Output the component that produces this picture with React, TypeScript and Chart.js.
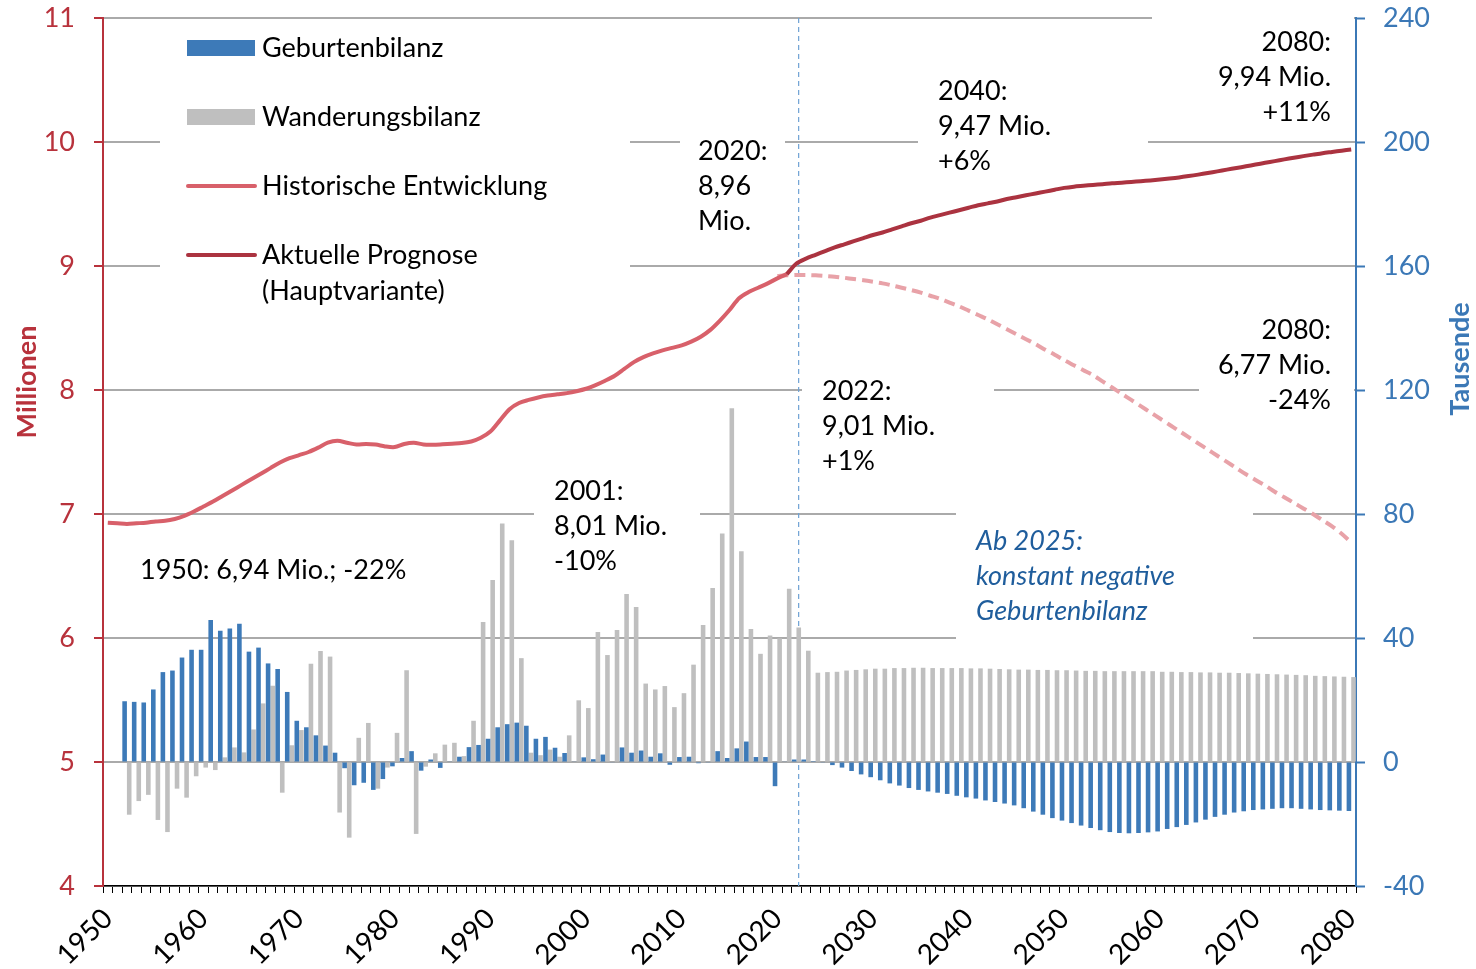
import React, { useEffect, useRef } from 'react';
import { Chart, registerables } from 'chart.js';

Chart.register(...registerables);

// ---------- categories ----------
const firstYear = 1950;
const lastYear = 2080;
const years: string[] = Array.from({ length: lastYear - firstYear + 1 }, (_, i) => String(firstYear + i));

// ---------- right axis (Tausende): bars ----------
const geburtenStart = 1952;
const geburtenbilanz = [
  19.6, 19.4, 19.2, 23.4, 29.0, 29.5, 33.7, 36.2, 36.2, // 1952-1960
  45.8, 42.3, 43.1, 44.6, 35.6, 36.9, 31.8, 30.0, 22.6, 13.3, // 1961-1970
  11.2, 8.6, 5.3, 3.0, -2.0, -7.5, -6.7, -9.0, -5.5, -1.4, // 1971-1980
  1.3, 3.5, -2.8, 0.8, -1.9, 0.2, 1.7, 4.8, 5.5, 7.5, // 1981-1990
  11.2, 12.2, 12.7, 11.7, 7.5, 8.1, 4.6, 2.9, 0.2, 1.5, // 1991-2000
  0.9, 2.4, -0.2, 4.7, 3.0, 3.7, 1.7, 2.8, -0.9, 1.6, // 2001-2010
  1.7, -0.4, -0.1, 3.5, 1.3, 4.4, 6.6, 1.6, 1.6, -7.8, // 2011-2020
  0.2, 0.8, 0.8, 0.3, -0.1, -1.0, -1.8, -2.9, -4.0, -4.9, // 2021-2030
  -5.9, -6.9, -7.6, -8.4, -9.0, -9.5, -9.9, -10.3, -10.9, -11.4, // 2031-2040
  -11.8, -12.4, -12.9, -13.4, -14.0, -14.9, -16.0, -17.0, -18.1, -18.9, // 2041-2050
  -19.7, -20.5, -21.3, -22.0, -22.6, -22.9, -23.0, -22.9, -22.7, -22.4, // 2051-2060
  -21.6, -21.0, -20.3, -19.5, -18.6, -17.7, -17.0, -16.3, -15.9, -15.5, // 2061-2070
  -15.3, -15.1, -14.9, -14.9, -15.1, -15.3, -15.5, -15.6, -15.7, -15.8, // 2071-2080
];

const wanderungStart = 1952;
const wanderungsbilanz = [
  -17.0, -12.6, -10.6, -18.7, -22.6, -8.6, -11.5, -4.6, -1.8, // 1952-1960
  -2.6, 1.5, 4.7, 3.1, 10.5, 18.9, 24.6, -9.9, 5.4, 10.3, // 1961-1970
  31.7, 35.8, 34.0, -16.3, -24.4, 7.8, 12.6, -8.6, -1.8, 9.4, // 1971-1980
  29.6, -23.2, -1.5, 2.8, 5.6, 6.2, 1.9, 13.3, 45.2, 58.7, // 1981-1990
  76.9, 71.5, 33.5, 3.0, 2.2, 4.0, 1.7, 8.6, 19.9, 17.4, // 1991-2000
  41.9, 34.5, 42.6, 54.2, 50.0, 25.3, 23.4, 24.5, 17.7, 22.2, // 2001-2010
  31.4, 44.2, 56.1, 73.7, 114.1, 68.0, 42.9, 34.9, 40.8, 39.9, // 2011-2020
  55.9, 43.4, 35.9, 28.8, 29.0, 29.1, 29.5, 29.7, 29.9, 30.1, // 2021-2030
  30.1, 30.3, 30.3, 30.4, 30.4, 30.3, 30.3, 30.3, 30.3, 30.2, // 2031-2040
  30.2, 30.1, 30.0, 29.9, 29.8, 29.8, 29.7, 29.7, 29.6, 29.6, // 2041-2050
  29.5, 29.4, 29.4, 29.3, 29.3, 29.3, 29.3, 29.3, 29.3, 29.1, // 2051-2060
  29.1, 29.0, 29.0, 28.9, 28.9, 28.8, 28.8, 28.7, 28.6, 28.5, // 2061-2070
  28.4, 28.3, 28.2, 28.1, 28.0, 27.8, 27.7, 27.6, 27.5, 27.4, // 2071-2080
];

// ---------- left axis (Millionen): lines ----------
const historischStart = 1950;
const historisch = [
  6.93, 6.925, 6.92, 6.925, 6.93, 6.94, 6.945, 6.96, 6.985, 7.02, // 1950-1959
  7.06, 7.1, 7.145, 7.19, 7.235, 7.28, 7.325, 7.37, 7.415, 7.45, // 1960-1969
  7.475, 7.5, 7.535, 7.575, 7.59, 7.575, 7.56, 7.565, 7.56, 7.545, // 1970-1979
  7.54, 7.565, 7.575, 7.56, 7.558, 7.562, 7.567, 7.572, 7.585, 7.615, // 1980-1989
  7.665, 7.755, 7.845, 7.895, 7.92, 7.94, 7.955, 7.965, 7.975, 7.99, // 1990-1999
  8.01, 8.04, 8.075, 8.115, 8.17, 8.225, 8.265, 8.295, 8.32, 8.34, // 2000-2009
  8.36, 8.39, 8.43, 8.485, 8.56, 8.645, 8.74, 8.79, 8.825, 8.86, // 2010-2019
  8.9, 8.935, // 2020-2021
];

const prognoseStart = 2021;
const prognose = [
  8.935, 9.02, 9.06, 9.09, 9.12, 9.15, 9.175, 9.2, 9.225, 9.25, // 2021-2030
  9.27, 9.295, 9.32, 9.345, 9.365, 9.39, 9.41, 9.43, 9.45, 9.47, // 2031-2040
  9.49, 9.505, 9.52, 9.54, 9.555, 9.57, 9.585, 9.6, 9.615, 9.63, // 2041-2050
  9.64, 9.647, 9.654, 9.66, 9.667, 9.672, 9.678, 9.684, 9.69, 9.697, // 2051-2060
  9.705, 9.714, 9.725, 9.737, 9.75, 9.763, 9.777, 9.79, 9.804, 9.818, // 2061-2070
  9.832, 9.846, 9.86, 9.873, 9.886, 9.898, 9.91, 9.92, 9.93, 9.94, // 2071-2080
];

const ohneWanderungStart = 2020;
const ohneWanderung = [
  8.92, // 2020
  8.925, 8.927, 8.927, 8.925, 8.92, 8.914, 8.905, 8.895, 8.885, 8.873, // 2021-2030
  8.86, 8.843, 8.825, 8.806, 8.785, 8.76, 8.735, 8.705, 8.675, 8.64, // 2031-2040
  8.605, 8.57, 8.53, 8.49, 8.45, 8.41, 8.37, 8.325, 8.285, 8.24, // 2041-2050
  8.2, 8.16, 8.12, 8.07, 8.02, 7.97, 7.92, 7.87, 7.82, 7.77, // 2051-2060
  7.72, 7.67, 7.62, 7.57, 7.52, 7.47, 7.42, 7.37, 7.32, 7.275, // 2061-2070
  7.23, 7.18, 7.135, 7.09, 7.045, 7.0, 6.95, 6.9, 6.84, 6.77, // 2071-2080
];

const markerYear = 2022.23; // dashed vertical marker

// ---------- text ----------
const annotations = [
  { lines: ['1950: 6,94 Mio.; -22%'], x: 140, y: 570, align: 'left' },
  { lines: ['2001:', '8,01 Mio.', '-10%'], x: 554, y: 491, align: 'left' },
  { lines: ['2020:', '8,96', 'Mio.'], x: 698, y: 151, align: 'left' },
  { lines: ['2040:', '9,47 Mio.', '+6%'], x: 938, y: 91, align: 'left' },
  { lines: ['2080:', '9,94 Mio.', '+11%'], x: 1331, y: 42, align: 'right' },
  { lines: ['2022:', '9,01 Mio.', '+1%'], x: 822, y: 391, align: 'left' },
  { lines: ['2080:', '6,77 Mio.', '-24%'], x: 1331, y: 330, align: 'right' },
  { lines: ['Ab 2025:', 'konstant negative', 'Geburtenbilanz'], x: 976, y: 541, align: 'left', italic: true, color: '#1f5d9c' },
];

// white text-box backgrounds (cover gridlines as in the original)
const whiteBoxes = [
  [160, 25, 630, 312],
  [680, 128, 785, 245],
  [918, 68, 1148, 180],
  [1152, 8, 1354, 130],
  [1199, 308, 1354, 420],
  [802, 370, 994, 480],
  [534, 468, 700, 582],
  [956, 505, 1253, 648],
];

const legendRows = [
  { ds: 0, y: 48, kind: 'bar', lines: ['Geburtenbilanz'] },
  { ds: 1, y: 117, kind: 'bar', lines: ['Wanderungsbilanz'] },
  { ds: 2, y: 186, kind: 'line', lines: ['Historische Entwicklung'] },
  { ds: 3, y: 255, kind: 'line', lines: ['Aktuelle Prognose', '(Hauptvariante)'] },
];

const FONT = 'Lato, "Open Sans", sans-serif';
const FS = 27;
const LINE_H = 35;
const RED_AXIS = '#b8323c';
const BLUE_AXIS = '#3b78b6';
const BAR_BLUE = '#3d7ab8';
const BAR_GRAY = '#bfbfbf';
const HIST_COLOR = '#d8606a';
const PROG_COLOR = '#ab3340';
const DASH_COLOR = '#e8a2a8';

function pad(start: number, arr: number[]) {
  const out: (number | null)[] = years.map(() => null);
  arr.forEach((v, i) => {
    out[start - firstYear + i] = v;
  });
  return out;
}

const decorPlugin = {
  id: 'decor',
  beforeDatasetsDraw(chart: any) {
    const ctx = chart.ctx;
    const ca = chart.chartArea;
    ctx.save();
    ctx.fillStyle = '#ffffff';
    for (const b of whiteBoxes) ctx.fillRect(b[0], b[1], b[2] - b[0], b[3] - b[1]);
    const vx = chart.scales.x.getPixelForValue(markerYear - firstYear);
    ctx.strokeStyle = '#6fa2d4';
    ctx.lineWidth = 1.2;
    ctx.setLineDash([5, 4]);
    ctx.beginPath();
    ctx.moveTo(vx, ca.top);
    ctx.lineTo(vx, ca.bottom);
    ctx.stroke();
    ctx.restore();
  },
  afterDraw(chart: any) {
    const ctx = chart.ctx;
    ctx.save();
    ctx.textBaseline = 'middle';
    for (const a of annotations) {
      ctx.font = `${a.italic ? 'italic ' : ''}${FS}px ${FONT}`;
      ctx.fillStyle = a.color || '#000';
      ctx.textAlign = a.align;
      a.lines.forEach((t, i) => ctx.fillText(t, a.x, a.y + i * LINE_H));
    }
    const ds = chart.data.datasets;
    for (const r of legendRows) {
      const d = ds[r.ds];
      if (r.kind === 'bar') {
        ctx.fillStyle = d.backgroundColor;
        ctx.fillRect(187, r.y - 8, 68, 16);
      } else {
        ctx.strokeStyle = d.borderColor;
        ctx.lineWidth = 4;
        ctx.lineCap = 'round';
        ctx.beginPath();
        ctx.moveTo(188, r.y);
        ctx.lineTo(255, r.y);
        ctx.stroke();
      }
      ctx.font = `${FS}px ${FONT}`;
      ctx.fillStyle = '#000';
      ctx.textAlign = 'left';
      r.lines.forEach((t, i) => ctx.fillText(t, 262, r.y + i * 36));
    }
    ctx.font = `bold ${FS}px ${FONT}`;
    ctx.textAlign = 'center';
    ctx.fillStyle = RED_AXIS;
    ctx.translate(27, 382);
    ctx.rotate(-Math.PI / 2);
    ctx.fillText('Millionen', 0, 0);
    ctx.restore();
    ctx.save();
    ctx.font = `bold ${FS}px ${FONT}`;
    ctx.textAlign = 'center';
    ctx.textBaseline = 'middle';
    ctx.fillStyle = BLUE_AXIS;
    ctx.translate(1460, 359);
    ctx.rotate(-Math.PI / 2);
    ctx.fillText('Tausende', 0, 0);
    ctx.restore();
  },
};

export default function App() {
  const ref = useRef<HTMLCanvasElement | null>(null);
  useEffect(() => {
    document.body.style.margin = '0';
    const canvas = ref.current;
    if (!canvas) return;
    const fitV = (w: number) => (s: any) => {
      s.width = w;
      s.paddingTop = 0;
      s.paddingBottom = 0;
    };
    const chart = new Chart(canvas, {
      type: 'bar',
      data: {
        labels: years,
        datasets: [
          {
            type: 'bar',
            label: 'Geburtenbilanz',
            data: pad(geburtenStart, geburtenbilanz),
            backgroundColor: BAR_BLUE,
            yAxisID: 'y1',
            order: 4,
            categoryPercentage: 0.96,
            barPercentage: 1,
          },
          {
            type: 'bar',
            label: 'Wanderungsbilanz',
            data: pad(wanderungStart, wanderungsbilanz),
            backgroundColor: BAR_GRAY,
            yAxisID: 'y1',
            order: 5,
            categoryPercentage: 0.96,
            barPercentage: 1,
          },
          {
            type: 'line',
            label: 'Historische Entwicklung',
            data: pad(historischStart, historisch),
            borderColor: HIST_COLOR,
            borderWidth: 4,
            pointRadius: 0,
            tension: 0.3,
            yAxisID: 'y',
            order: 2,
          },
          {
            type: 'line',
            label: 'Aktuelle Prognose (Hauptvariante)',
            data: pad(prognoseStart, prognose),
            borderColor: PROG_COLOR,
            borderWidth: 4,
            pointRadius: 0,
            tension: 0.3,
            yAxisID: 'y',
            order: 1,
          },
          {
            type: 'line',
            label: 'Ohne Wanderung',
            data: pad(ohneWanderungStart, ohneWanderung),
            borderColor: DASH_COLOR,
            borderWidth: 4,
            borderDash: [11, 6],
            pointRadius: 0,
            tension: 0.3,
            yAxisID: 'y',
            order: 3,
          },
        ],
      },
      options: {
        responsive: false,
        animation: false,
        layout: { padding: { top: 18, left: 0, right: 0, bottom: 0 } },
        plugins: { legend: { display: false }, tooltip: { enabled: false } },
        scales: {
          x: {
            type: 'category',
            offset: true,
            grid: { offset: true, drawOnChartArea: false, drawTicks: true, tickLength: 7, color: '#000', lineWidth: 1 },
            border: { color: '#000', width: 1.5 },
            ticks: {
              autoSkip: false,
              minRotation: 45,
              maxRotation: 45,
              color: '#000',
              padding: 9,
              font: { family: FONT, size: 28 },
              callback: (_v: any, i: number) => ((firstYear + i) % 10 === 0 ? years[i] : ''),
            },
            afterFit: (s: any) => {
              s.height = 83;
              s.paddingLeft = 0;
              s.paddingRight = 0;
            },
          },
          y: {
            position: 'left',
            min: 4,
            max: 11,
            ticks: { stepSize: 1, color: RED_AXIS, padding: 19, font: { family: FONT, size: FS } },
            grid: { color: '#aaaaaa', lineWidth: 2, tickColor: RED_AXIS, tickLength: 9, tickWidth: 2 },
            border: { color: RED_AXIS, width: 2 },
            afterFit: fitV(103),
          },
          y1: {
            position: 'right',
            min: -40,
            max: 240,
            ticks: { stepSize: 40, color: BLUE_AXIS, padding: 18, font: { family: FONT, size: FS } },
            grid: { drawOnChartArea: false, tickColor: BLUE_AXIS, tickLength: 9, tickWidth: 2 },
            border: { color: BLUE_AXIS, width: 2 },
            afterFit: fitV(120),
          },
        },
      },
      plugins: [decorPlugin],
    } as any);
    return () => chart.destroy();
  }, []);
  return (
    <div style={{ width: 1476, height: 969, background: '#fff' }}>
      <canvas ref={ref} width={1476} height={969} style={{ display: 'block' }} />
    </div>
  );
}
